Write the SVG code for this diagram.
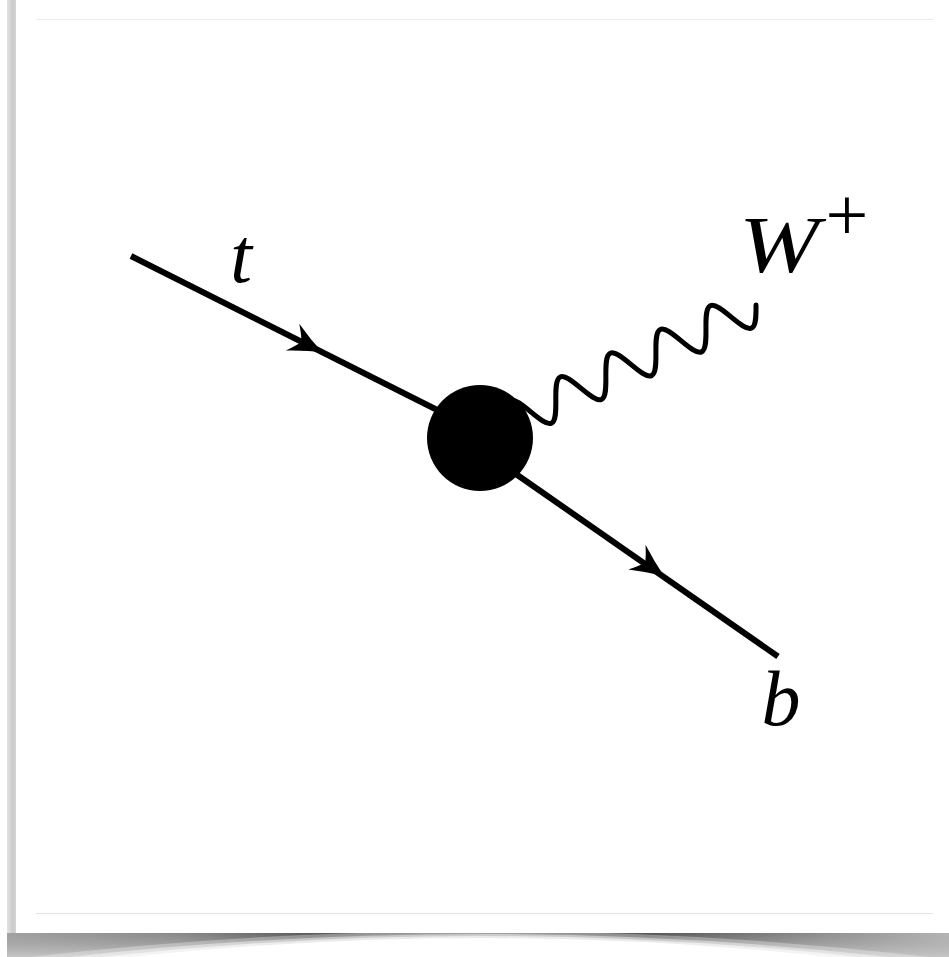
<svg xmlns="http://www.w3.org/2000/svg" width="949" height="957" viewBox="0 0 949 957">
  <style>
    .fermion { stroke: #000; stroke-width: 6; fill: none; stroke-linecap: butt; }
    .boson { stroke: #000; stroke-width: 5; fill: none; stroke-linecap: round; stroke-linejoin: round; }
    .arrow { fill: #000; stroke: none; }
    .lbl { font-family: 'Liberation Serif', 'Times New Roman', serif; font-style: italic; fill: #000; }
    .sup { font-family: 'Liberation Serif', 'Times New Roman', serif; fill: #000; }
  </style>
  <defs>
    <linearGradient id="baseGrad" x1="0" y1="0" x2="0" y2="1">
      <stop offset="0" stop-color="#a8a8a8"/>
      <stop offset="1" stop-color="#c6c6c6"/>
    </linearGradient>
    <linearGradient id="darkGrad" x1="0" y1="0" x2="1" y2="0">
      <stop offset="0" stop-color="#a0a0a0"/>
      <stop offset="0.18" stop-color="#8a8a8a"/>
      <stop offset="0.32" stop-color="#5a5a5a"/>
      <stop offset="0.5" stop-color="#7a7a7a"/>
      <stop offset="0.68" stop-color="#555"/>
      <stop offset="0.85" stop-color="#8a8a8a"/>
      <stop offset="1" stop-color="#b4b4b4"/>
    </linearGradient>
    <linearGradient id="fadeGrad" x1="0" y1="0" x2="0" y2="1">
      <stop offset="0" stop-color="#fff"/>
      <stop offset="1" stop-color="#000"/>
    </linearGradient>
    <mask id="fadeMask" maskUnits="userSpaceOnUse" x="0" y="930" width="949" height="30">
      <rect x="0" y="933" width="949" height="24" fill="url(#fadeGrad)"/>
    </mask>
    <linearGradient id="sideGrad" x1="0" y1="0" x2="1" y2="0">
      <stop offset="0" stop-color="#e2e2e2"/>
      <stop offset="0.6" stop-color="#cacaca"/>
      <stop offset="1" stop-color="#dadada"/>
    </linearGradient>
    <path id="arrowHead" d="M0,0 Q-16,-6 -33,-15 Q-26,-6 -23,0 Q-26,6 -33,15 Q-16,6 0,0 Z"/>
  </defs>

  <!-- frame -->
  <g id="frame">
    <rect x="0" y="0" width="949" height="957" fill="#fff"/>
    <rect x="7" y="0" width="10" height="957" fill="url(#sideGrad)"/>
    <rect x="7" y="933" width="942" height="24" fill="url(#baseGrad)"/>
    <rect x="7" y="933" width="942" height="24" fill="url(#darkGrad)" mask="url(#fadeMask)"/>
    <path d="M30,957 Q480,905 930,957 Z" fill="#fff" fill-opacity="0.3"/>
    <path d="M70,957 Q480,911 890,957 Z" fill="#fff" fill-opacity="0.45"/>
    <path d="M100,957 Q480,915 860,957 Z" fill="#fff" fill-opacity="0.6"/>
    <path d="M130,957 Q480,919 830,957 Z" fill="#fff"/>
    <rect x="16" y="0" width="933" height="933" fill="#fff"/>
    <line x1="36" y1="19.5" x2="933" y2="19.5" stroke="#ececec" stroke-width="1"/>
    <line x1="36" y1="913.5" x2="933" y2="913.5" stroke="#e4e4e4" stroke-width="1"/>
  </g>

  <g id="connectors">
    <line id="edge-t" class="fermion" x1="131" y1="256" x2="480" y2="431.5"/>
    <line id="edge-b" class="fermion" x1="480" y1="449" x2="778" y2="656.5"/>
    <path id="edge-W" class="boson" transform="translate(756,305) rotate(-25.4)"
      d="M-277,0
         c 4.52,-9.74 8.84,-19 13.85,-19 c 5.01,0 9.33,9.26 13.85,19 c 4.52,9.74 8.84,19 13.85,19 c 5.01,0 9.33,-9.26 13.85,-19
         c 4.52,-9.74 8.84,-19 13.85,-19 c 5.01,0 9.33,9.26 13.85,19 c 4.52,9.74 8.84,19 13.85,19 c 5.01,0 9.33,-9.26 13.85,-19
         c 4.52,-9.74 8.84,-19 13.85,-19 c 5.01,0 9.33,9.26 13.85,19 c 4.52,9.74 8.84,19 13.85,19 c 5.01,0 9.33,-9.26 13.85,-19
         c 4.52,-9.74 8.84,-19 13.85,-19 c 5.01,0 9.33,9.26 13.85,19 c 4.52,9.74 8.84,19 13.85,19 c 5.01,0 9.33,-9.26 13.85,-19
         c 4.52,-9.74 8.84,-19 13.85,-19 c 5.01,0 9.33,9.26 13.85,19 c 4.52,9.74 8.84,19 13.85,19 c 5.01,0 9.33,-9.26 13.85,-19"/>
    <use href="#arrowHead" class="arrow" transform="translate(322,352) rotate(26.7)"/>
    <use href="#arrowHead" class="arrow" transform="translate(664,576) rotate(34.9)"/>
  </g>

  <g id="node-vertex">
    <circle cx="480" cy="438" r="53" fill="#000"/>
  </g>

  <g id="node-t">
    <text class="lbl" x="241" y="282" font-size="78" text-anchor="middle">t</text>
  </g>

  <g id="node-W">
    <text class="lbl" x="739" y="272" font-size="80" textLength="80" lengthAdjust="spacingAndGlyphs">W</text>
    <text class="sup" x="847" y="240" font-size="76" text-anchor="middle">+</text>
  </g>

  <g id="node-b">
    <text class="lbl" x="781" y="725" font-size="78" text-anchor="middle">b</text>
  </g>
</svg>
